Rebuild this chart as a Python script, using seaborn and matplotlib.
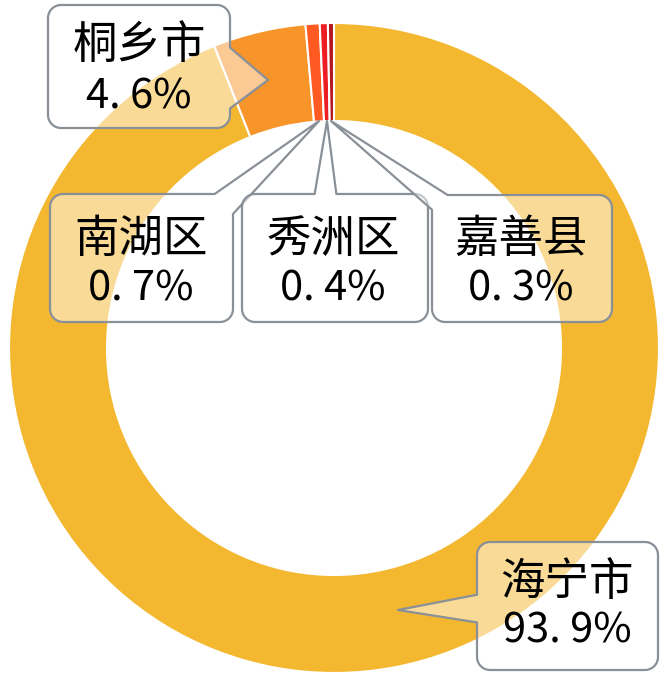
import numpy as np
import matplotlib
matplotlib.use("Agg")
import matplotlib.pyplot as plt
from matplotlib.patches import Polygon
import seaborn as sns

# ---- data ----
regions = ["海宁市", "桐乡市", "南湖区", "秀洲区", "嘉善县"]
shares = [93.9, 4.6, 0.7, 0.4, 0.3]
share_labels = ["93. 9%", "4. 6%", "0. 7%", "0. 4%", "0. 3%"]
palette = ["#F4B730", "#F7942A", "#FF5A22", "#EC1E24", "#B3161B"]

sns.set_theme(style="white")
plt.rcParams["font.family"] = ["Noto Sans CJK SC", "DejaVu Sans"]

W, H = 668, 686
fig = plt.figure(figsize=(W / 100, H / 100), dpi=100)
ax = fig.add_axes([0, 0, 1, 1])


def P(x, y):
    return (x, H - y)


cx, cy = P(334, 348)
ax.pie(shares, colors=sns.color_palette(palette), startangle=90, counterclock=False,
       center=(cx, cy), radius=325,
       wedgeprops=dict(width=98, edgecolor="white", linewidth=1.5))
ax.set_xlim(0, W)
ax.set_ylim(0, H)
ax.set_aspect("equal")
ax.axis("off")


def rounded_rect(x0, y0, x1, y1, r, n=10):
    """perimeter points (pixel coords), clockwise on screen starting top-left"""
    pts = []
    corners = [((x0 + r, y0 + r), 180, 270),
               ((x1 - r, y0 + r), 270, 360),
               ((x1 - r, y1 - r), 0, 90),
               ((x0 + r, y1 - r), 90, 180)]
    seg_dense = 60
    for i, (c, a0, a1) in enumerate(corners):
        for t in np.linspace(a0, a1, n):
            pts.append((c[0] + r * np.cos(np.radians(t)), c[1] + r * np.sin(np.radians(t))))
        nxt = corners[(i + 1) % 4]
        a = pts[-1]
        t0 = nxt[1]
        b = (nxt[0][0] + r * np.cos(np.radians(t0)), nxt[0][1] + r * np.sin(np.radians(t0)))
        for s in np.linspace(0, 1, seg_dense)[1:-1]:
            pts.append((a[0] + (b[0] - a[0]) * s, a[1] + (b[1] - a[1]) * s))
    return pts


def callout(box, base1, base2, tip, r=13):
    pts = rounded_rect(*box, r)
    arr = np.array(pts)
    i1 = int(np.argmin(((arr - np.array(base1)) ** 2).sum(axis=1)))
    i2 = int(np.argmin(((arr - np.array(base2)) ** 2).sum(axis=1)))
    if i1 > i2:
        i1, i2 = i2, i1
    if i2 - i1 > len(pts) / 2:
        poly = pts[i1:i2 + 1] + [tip]
    else:
        poly = pts[:i1 + 1] + [tip] + pts[i2:]
    poly = [P(x, y) for x, y in poly]
    ax.add_patch(Polygon(poly, closed=True, facecolor=(1, 1, 1, 0.5),
                         edgecolor="#8A9098", linewidth=1.6, joinstyle="round", zorder=5))


boxes = {
    "桐乡市": dict(box=(48, 5, 230, 128), b1=(230, 48), b2=(230, 108), tip=(268, 80),
                 cx=139, y1=45, y2=97),
    "南湖区": dict(box=(50, 194, 233, 322), b1=(215, 194), b2=(233, 214), tip=(319, 121),
                 cx=141, y1=239, y2=289),
    "秀洲区": dict(box=(242, 194, 428, 322), b1=(315, 194), b2=(337, 194), tip=(327, 121),
                 cx=333, y1=239, y2=289),
    "嘉善县": dict(box=(432, 195, 612, 322), b1=(447, 195), b2=(432, 210), tip=(331, 121),
                 cx=521, y1=239, y2=289),
    "海宁市": dict(box=(477, 542, 658, 670), b1=(477, 595), b2=(477, 622), tip=(398, 610),
                 cx=567, y1=582, y2=631),
}

for name, lab in zip(regions, share_labels):
    b = boxes[name]
    callout(b["box"], b["b1"], b["b2"], b["tip"])
    ax.text(*P(b["cx"], b["y1"]), name, ha="center", va="center", fontsize=32,
            color="black", zorder=6)
    ax.text(*P(b["cx"], b["y2"]), lab, ha="center", va="center", fontsize=30,
            color="black", zorder=6)

fig.savefig("out.png", dpi=100, facecolor="white")
